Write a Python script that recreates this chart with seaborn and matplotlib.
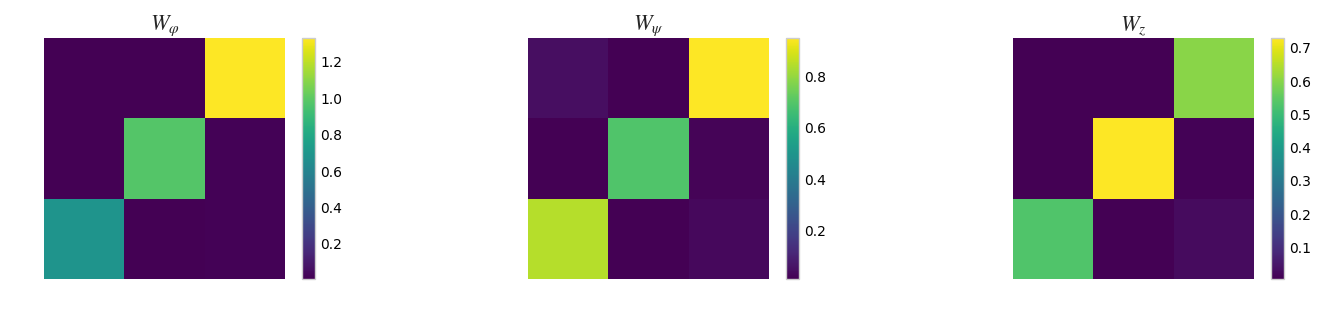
import numpy as np
import matplotlib
matplotlib.use("Agg")
import matplotlib.pyplot as plt
import seaborn as sns

sns.set_theme(style="white")
plt.rcParams['font.family'] = ['DejaVu Sans']
plt.rcParams['mathtext.fontset'] = 'stix'

titles = [r"$W_\varphi$", r"$W_\psi$", r"$W_z$"]

W_phi = [[0.010, 0.008, 1.330],
         [0.010, 0.975, 0.014],
         [0.690, 0.010, 0.014]]
W_psi = [[0.045, 0.012, 0.950],
         [0.015, 0.690, 0.022],
         [0.845, 0.015, 0.032]]
W_z = [[0.005, 0.005, 0.600],
       [0.006, 0.730, 0.010],
       [0.530, 0.006, 0.026]]

cbar_ticks = [[0.2, 0.4, 0.6, 0.8, 1.0, 1.2],
              [0.2, 0.4, 0.6, 0.8],
              [0.1, 0.2, 0.3, 0.4, 0.5, 0.6, 0.7]]

W = 1329
H = 314
fig = plt.figure(figsize=(W / 100, H / 100), dpi=100)

hm_left = [44, 528, 1013]
hm_w = 241
hm_top = 38
hm_h = 241
cb_off = 258
cb_w = 13

for i, (mat, title) in enumerate(zip([W_phi, W_psi, W_z], titles)):
    x0 = hm_left[i]
    ax = fig.add_axes([x0 / W, 1 - (hm_top + hm_h) / H, hm_w / W, hm_h / H])
    cax = fig.add_axes([(x0 + cb_off) / W, 1 - (hm_top + hm_h) / H, cb_w / W, hm_h / H])
    sns.heatmap(np.array(mat), ax=ax, cbar_ax=cax, cmap="viridis",
                xticklabels=False, yticklabels=False, square=False)
    ax.set_title(title, fontsize=16, pad=5)
    cb = ax.collections[0].colorbar
    cb.set_ticks(cbar_ticks[i])
    cb.ax.tick_params(direction='in', length=4, width=1, color='#222222',
                      labelsize=10, pad=4, right=True)
    cb.outline.set_visible(True)
    cb.outline.set_linewidth(1.0)
    cb.outline.set_edgecolor('#cccccc')
    for t in cb.ax.get_yticklabels():
        t.set_color('black')

fig.savefig("out.png", dpi=100)
